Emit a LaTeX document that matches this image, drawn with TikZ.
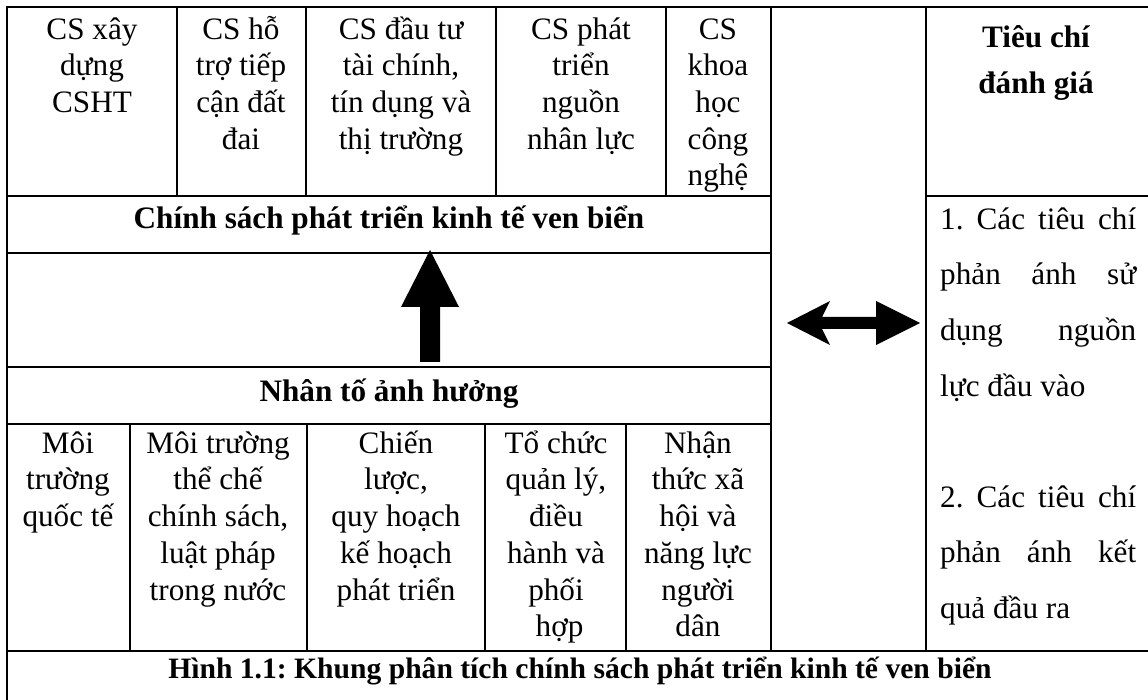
\documentclass[tikz,border=0pt]{standalone}
\usepackage{fontspec}
\setmainfont{Liberation Serif}
\frenchspacing
\newcommand{\bodyfont}{\fontsize{31.2}{36.7}\selectfont}
\newcommand{\widefont}{\fontsize{31.2}{55.7}\selectfont}
\newcommand{\headfont}{\fontsize{31.2}{46}\selectfont\bfseries}
\newcommand{\capfont}{\fontsize{29.6}{32}\selectfont\bfseries}
% invisible strut fixing the height of the first line of a cell
\newcommand{\topstrut}{\rule{0pt}{30pt}}
\newcommand{\jline}[1]{\makebox[196pt][s]{#1}}
\begin{document}
\begin{tikzpicture}[x=1pt,y=-1pt,
  rulethick/.style={line width=2.2pt,line cap=rect},
  rulethin/.style={line width=1.2pt,line cap=rect},
  cell/.style={anchor=north,inner sep=0pt,align=center,font=\bodyfont},
  band/.style={anchor=base,inner sep=0pt,font=\bodyfont\bfseries},
  blockarrow/.style={fill=black,draw=none}]
\useasboundingbox (0,0) rectangle (1148,700);

% frame and rules
\draw[rulethick] (1148,7) -- (7,7) -- (7,700);
\draw[rulethick] (7,651) -- (1148,651);
\draw[rulethick] (771,7) -- (771,651);
\draw[rulethick] (926,7) -- (926,651);
\draw[rulethin] (7,196) -- (771,196);
\draw[rulethin] (926,196) -- (1148,196);
\draw[rulethick] (7,253) -- (771,253);
\draw[rulethin] (7,367) -- (771,367);
\draw[rulethick] (7,424) -- (771,424);
% policy columns
\foreach \x in {177,306,496,666} \draw[rulethick] (\x,7) -- (\x,196);
% factor columns
\foreach \x in {130,307,485,626} \draw[rulethick] (\x,424) -- (\x,651);

% policy components
\node[cell] (p1) at (92,9) {\topstrut CS xây\\dựng\\CSHT};
\node[cell] (p2) at (241,9) {\topstrut CS hỗ\\trợ tiếp\\cận đất\\đai};
\node[cell] (p3) at (401,9) {\topstrut CS đầu tư\\tài chính,\\tín dụng và\\thị trường};
\node[cell] (p4) at (581,9) {\topstrut CS phát\\triển\\nguồn\\nhân lực};
\node[cell] (p5) at (718,9) {\topstrut CS\\khoa\\học\\công\\nghệ};

% bands
\node[band] (policy) at (389,229) {Chính sách phát triển kinh tế ven biển};
\node[band] (factors) at (389,401) {Nhân tố ảnh hưởng};

% influencing factors
\node[cell] (f1) at (68,423) {\topstrut Môi\\trường\\quốc tế};
\node[cell] (f2) at (218,423) {\topstrut Môi trường\\thể chế\\chính sách,\\luật pháp\\trong nước};
\node[cell] (f3) at (396,423) {\topstrut Chiến\\lược,\\quy hoạch\\kế hoạch\\phát triển};
\node[cell] (f4) at (556,423) {\topstrut Tổ chức\\quản lý,\\điều\\hành và\\phối\\\hspace*{7pt}hợp};
\node[cell] (f5) at (698,423) {\topstrut Nhận\\thức xã\\hội và\\năng lực\\người\\dân};

% evaluation criteria
\node[cell,font=\headfont] (crit) at (1036,17) {\topstrut Tiêu chí\\đánh giá};
\node[anchor=north west,inner sep=0pt,align=left,font=\widefont] (c1) at (940,199)
  {\topstrut\jline{1. Các tiêu chí}\\\jline{phản ánh sử}\\\jline{dụng nguồn}\\lực đầu vào};
\node[anchor=north west,inner sep=0pt,align=left,font=\widefont] (c2) at (940,477)
  {\topstrut\jline{2. Các tiêu chí}\\\jline{phản ánh kết}\\quả đầu ra};

% caption
\node[anchor=base,inner sep=0pt,font=\capfont] (cap) at (580,678)
  {Hình 1.1: Khung phân tích chính sách phát triển kinh tế ven biển};

% influence arrow: factors -> policy
\fill[blockarrow] (430,250) -- (459,307) -- (440,307) -- (440,362) -- (420,362)
  -- (420,307) -- (401,307) -- cycle;
% two-way arrow between policy and criteria
\fill[blockarrow] (787,323) -- (830,301) -- (822,317) -- (876,317) -- (876,301)
  -- (920,323) -- (876,345) -- (876,329) -- (822,329) -- (830,345) -- cycle;
\end{tikzpicture}
\end{document}
